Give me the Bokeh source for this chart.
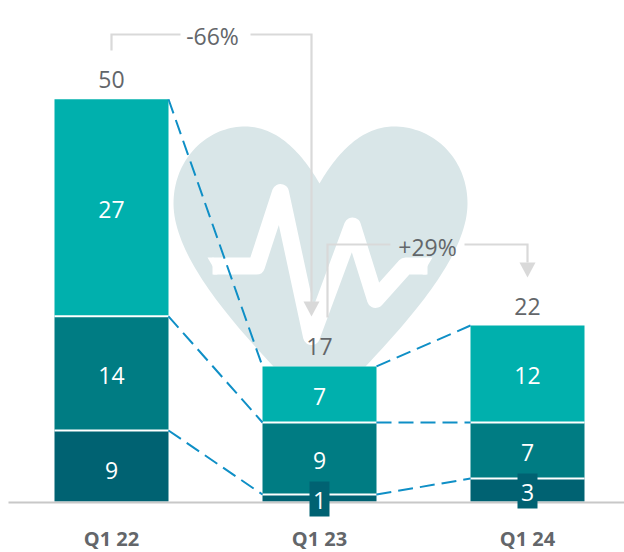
from bokeh.plotting import figure
from bokeh.embed import file_html
from bokeh.resources import INLINE
from bokeh.models import Range1d
from bokeh.core.properties import value
import numpy as np

quarters = ["Q1 22", "Q1 23", "Q1 24"]
totals = ["50", "17", "22"]
seg_bottom = [8.83, 0.87, 2.86]
seg_middle = [14.2, 8.96, 6.97]
seg_top = [27.0, 6.97, 12.06]
lab_bottom = ["9", "1", "3"]
lab_middle = ["14", "9", "7"]
lab_top = ["27", "7", "12"]
changes = ["-66%", "+29%"]

C_BOTTOM, C_MIDDLE, C_TOP = "#006272", "#007C83", "#00B0AD"
GRAY, TXT, BLUE, HEART = "#D9D9D9", "#63666A", "#0F8FC6", "#D9E6E8"
FONT = value("Open Sans")

W, H = 624, 552
PX_X, PX_Y = 208.0, 8.04
x0_px, base_px = 111.0, 501.0
def X(px): return (np.asarray(px, float) - x0_px) / PX_X
def Y(py): return (base_px - np.asarray(py, float)) / PX_Y

p = figure(width=W, height=H, output_backend="svg", toolbar_location=None,
           x_range=Range1d(float(X(0)), float(X(W))), y_range=Range1d(float(Y(H)), float(Y(0))),
           min_border=0, outline_line_color=None)
p.axis.visible = False
p.grid.visible = False

def bez(a, b, c, d, n=40):
    t = np.linspace(0, 1, n)[:, None]
    a, b, c, d = map(np.array, (a, b, c, d))
    return (1-t)**3*a + 3*(1-t)**2*t*b + 3*(1-t)*t**2*c + t**3*d
hp = np.vstack([
    bez((319, 183), (300, 150), (275, 126), (245, 126)),
    bez((245, 126), (205, 126), (173, 160), (173, 203)),
    bez((173, 203), (173, 255), (230, 320), (273, 366)),
    [(365, 366)],
    bez((365, 366), (408, 320), (467, 255), (467, 203)),
    bez((467, 203), (467, 160), (435, 126), (393, 126)),
    bez((393, 126), (363, 126), (338, 150), (319, 183)),
])
p.patch(X(hp[:, 0]), Y(hp[:, 1]), fill_color=HEART, line_color=None)
ex = [212, 256, 280, 311, 352, 375, 405, 427]
ey = [265.5, 265.5, 192, 336, 225.5, 299, 265.5, 265.5]
p.line(X(ex), Y(ey), line_color="white", line_width=17, line_join="round")
p.patch(X([207, 213, 213, 217]), Y([257, 257, 274, 274]), fill_color="white", line_color=None)
p.patch(X([432, 426, 426, 422]), Y([257, 257, 274, 274]), fill_color="white", line_color=None)

xs = np.arange(3)
b0 = np.zeros(3)
b1 = np.array(seg_bottom)
b2 = b1 + np.array(seg_middle)
b3 = b2 + np.array(seg_top)
BW = 114 / PX_X
for lo, hi, c in [(b0, b1, C_BOTTOM), (b1, b2, C_MIDDLE), (b2, b3, C_TOP)]:
    p.vbar(x=xs, bottom=lo, top=hi, width=BW, fill_color=c, line_color=None)
for lev in (b1, b2):
    p.segment(x0=xs - BW/2, x1=xs + BW/2, y0=lev, y1=lev, line_color="white", line_width=2)

for lev in (b1, b2, b3):
    for i in range(2):
        p.line([xs[i] + BW/2, xs[i+1] - BW/2], [lev[i], lev[i+1]],
               line_color=BLUE, line_width=2, line_dash="15 7")

p.line(X([8, 624]), Y([502, 502]), line_color="#C8C8C8", line_width=2)

for sx, sy in [((111, 111, 180), (50, 34, 34)), ((250, 311, 311), (34, 34, 302)),
               ((327, 327, 390), (317, 244, 244)), ((464, 527, 527), (244, 244, 262))]:
    p.line(X(sx), Y(sy), line_color=GRAY, line_width=2.2, line_join="miter")
for ax, ay in [(311, 316), (527, 277)]:
    p.patch(X([ax-8, ax+8, ax]), Y([ay-15, ay-15, ay]), fill_color=GRAY, line_color=None)

def txt(x, y, t, color, size, weight="normal"):
    p.text(x=list(x), y=list(y), text=t, text_color=color, text_font=FONT, text_font_size=size,
           text_align="center", text_baseline="middle", text_font_style=weight)

p.rect(x=[1, 2], y=[float(Y(498.5)), float(Y(490.5))], width=20/PX_X, height=35/PX_Y,
       fill_color=C_BOTTOM, line_color=None)

LAB = 2 / PX_Y
txt(xs, [Y(470), Y(500), Y(492)], lab_bottom, "white", "23px")
txt(xs, (b1+b2)/2 - LAB, lab_middle, "white", "23px")
txt(xs, (b2+b3)/2 - LAB, lab_top, "white", "23px")
txt(xs, b3 + 19.5/PX_Y, totals, TXT, "23px")
txt([X(212), X(427)], [Y(35), Y(246)], changes, TXT, "23px")
txt(xs, [Y(537.5)]*3, quarters, TXT, "20px", "bold")

html = file_html(p, INLINE).replace("<head>", "<head><style>html,body{margin:0;padding:0}</style>", 1)
open("out.html", "w").write(html)
